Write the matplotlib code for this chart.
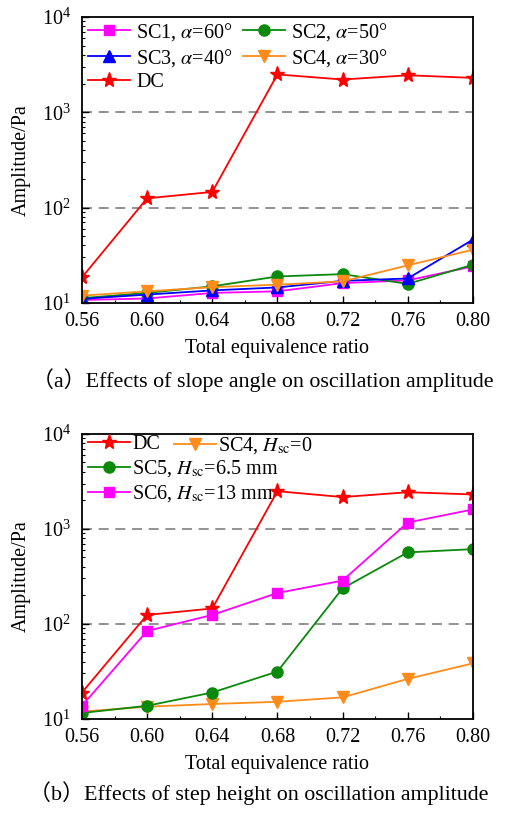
import matplotlib
matplotlib.use("Agg")
import matplotlib.pyplot as plt
from matplotlib.ticker import LogLocator, MultipleLocator, NullFormatter

plt.rcParams['font.family'] = ['Liberation Serif', 'Noto Sans CJK SC']
plt.rcParams['mathtext.fontset'] = 'stix'
plt.rcParams['font.size'] = 14.5

# equivalence ratio
phi = [0.56, 0.60, 0.64, 0.68, 0.72, 0.76, 0.80]

# (a) slope angle
dc_a = [18.5, 125, 146, 2500, 2210, 2450, 2300]
sc1 = [10.7, 11.1, 12.7, 13.2, 16.1, 17.2, 24.1]
sc2 = [11.2, 12.7, 14.9, 18.9, 20.0, 15.8, 25.1]
sc3 = [11.0, 12.2, 13.5, 14.5, 17.0, 18.0, 46.0]
sc4_a = [11.9, 13.2, 14.6, 15.5, 16.8, 24.7, 36.1]

# (b) step height
dc_b = [18.9, 124, 145, 2490, 2160, 2430, 2300]
sc4_b = [11.9, 13.4, 14.3, 15.1, 16.8, 26.3, 38.3]
sc5 = [11.5, 13.7, 18.9, 31.4, 236, 565, 611]
sc6 = [13.7, 84, 124, 211, 285, 1165, 1600]

RED = '#ff0000'
MAG = '#ff00ff'
GRN = '#0a8a0a'
BLU = '#0000ff'
ORG = '#ff8c1a'


def style_axes(ax):
    ax.set_yscale('log')
    ax.set_xlim(0.56, 0.80)
    ax.set_ylim(10, 1e4)
    ax.set_xticks(phi)
    ax.set_xticklabels(['%.2f' % p for p in phi])
    ax.xaxis.set_minor_locator(MultipleLocator(0.02))
    ax.yaxis.set_major_locator(LogLocator(base=10, numticks=10))
    ax.yaxis.set_minor_locator(LogLocator(base=10, subs=range(2, 10), numticks=10))
    ax.yaxis.set_minor_formatter(NullFormatter())
    ax.tick_params(which='both', direction='in', top=False, right=False)
    ax.tick_params(which='major', length=5, width=1)
    ax.tick_params(axis='x', which='major', pad=6.5)
    ax.tick_params(axis='y', which='major', pad=8)
    ax.tick_params(which='minor', length=2.5, width=0.8)
    for s in ax.spines.values():
        s.set_linewidth(1.3)
    for g in [100, 1000]:
        ax.axhline(g, color='#808080', lw=1.2, ls=(0, (6, 4)), zorder=0)
    ax.set_xlabel('Total equivalence ratio', labelpad=6)
    ax.set_ylabel('Amplitude/Pa', labelpad=8)


fig = plt.figure(figsize=(5.09, 8.14), dpi=100)
ax1 = fig.add_axes([0.161, 0.628, 0.768, 0.351])
ax2 = fig.add_axes([0.161, 0.117, 0.768, 0.350])

kw = dict(lw=1.3)
ax1.plot(phi, sc1, '-s', color=MAG, ms=7, label=r'SC1, $\alpha$=60°', **kw)
ax1.plot(phi, sc2, '-o', color=GRN, ms=8, label=r'SC2, $\alpha$=50°', **kw)
ax1.plot(phi, sc3, '-^', color=BLU, ms=8, label=r'SC3, $\alpha$=40°', **kw)
ax1.plot(phi, sc4_a, '-v', color=ORG, ms=8, label=r'SC4, $\alpha$=30°', **kw)
ax1.plot(phi, dc_a, '-*', color=RED, ms=11, label='DC', **kw)
style_axes(ax1)
h, l = ax1.get_legend_handles_labels()
order = [0, 2, 4, 1, 3]
ax1.legend([h[i] for i in order], [l[i] for i in order], ncol=2, loc='upper left',
           frameon=False, fontsize=14.5, handlelength=2.1, handletextpad=0.3,
           labelspacing=0.2, columnspacing=0.5, borderaxespad=0.1,
           bbox_to_anchor=(-0.01, 1.022))

ax2.plot(phi, dc_b, '-*', color=RED, ms=11, label='DC', **kw)
ax2.plot(phi, sc4_b, '-v', color=ORG, ms=8, label=r'SC4, $H_{\rm sc}$=0', **kw)
ax2.plot(phi, sc5, '-o', color=GRN, ms=8, label=r'SC5, $H_{\rm sc}$=6.5 mm', **kw)
ax2.plot(phi, sc6, '-s', color=MAG, ms=7, label=r'SC6, $H_{\rm sc}$=13 mm', **kw)
style_axes(ax2)
h, l = ax2.get_legend_handles_labels()
leg_main = ax2.legend([h[0], h[2], h[3]], [l[0], l[2], l[3]], loc='upper left',
                      frameon=False, fontsize=14.5, handlelength=2.1,
                      handletextpad=0.1, labelspacing=0.2, borderaxespad=0.1,
                      bbox_to_anchor=(-0.01, 1.03))
ax2.add_artist(leg_main)
ax2.legend([h[1]], [l[1]], loc='upper left', frameon=False, fontsize=14.5,
           handlelength=2.1, handletextpad=0.1, borderaxespad=0.1,
           bbox_to_anchor=(0.21, 1.03))

# sub-figure captions
fig.text(0.063, 0.533, '（a）Effects of slope angle on oscillation amplitude',
         ha='left', va='center', fontsize=15.8)
fig.text(0.056, 0.026, '（b）Effects of step height on oscillation amplitude',
         ha='left', va='center', fontsize=15.8)

fig.savefig('out.png', dpi=100)
